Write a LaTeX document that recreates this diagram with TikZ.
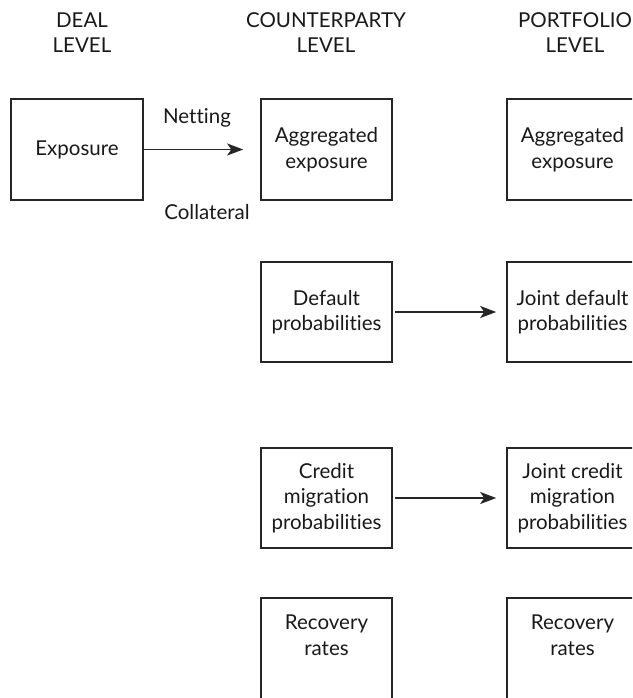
\documentclass[tikz,border=0pt]{standalone}
\usepackage{fontspec}
\setmainfont{Lato}[Ligatures=NoCommon]
\usetikzlibrary{arrows.meta}
\begin{document}
\begin{tikzpicture}[x=1pt,y=-1pt,
  box/.style={draw=black!85,line width=1.6pt,minimum width=131pt,minimum height=100pt,inner sep=0pt,align=center,font=\fontsize{20.5}{25.5}\selectfont,text=black!90},
  hdr/.style={align=center,font=\fontsize{20.5}{25}\selectfont,text=black!90},
  lbl/.style={font=\fontsize{20.5}{25}\selectfont,text=black!90},
  arr/.style={draw=black!85,line width=1.8pt,-{Stealth[length=16pt,width=12pt,inset=4pt]}}]
\clip (0,0) rectangle (632,698);
\node[hdr] (h1) at (82,33) {DEAL\\LEVEL};
\node[hdr] (h2) at (326,33) {COUNTERPARTY\\LEVEL};
\node[hdr] (h3) at (575,33) {PORTFOLIO\\LEVEL};
\node[box,minimum width=132pt,minimum height=101pt] (exp) at (77,149.5) {Exposure};
\node[box,minimum height=101pt] (agg) at (326.5,149.5) {Aggregated\\exposure};
\node[box,minimum height=101pt] (pagg) at (572.5,149.5) {Aggregated\\exposure};
\node[box] (def) at (326.5,312) {Default\\probabilities};
\node[box] (jdef) at (572.5,312) {Joint default\\probabilities};
\node[box] (cm) at (326.5,498) {Credit\\migration\\probabilities};
\node[box] (jcm) at (572.5,498) {Joint credit\\migration\\probabilities};
\node[box,minimum height=120pt] (rec) at (326.5,658) {Recovery\\rates\\[20pt]};
\node[box,minimum height=120pt] (jrec) at (572.5,658) {Recovery\\rates\\[20pt]};
\node[lbl] (net) at (197,118) {Netting};
\node[lbl] (col) at (207,212) {Collateral};
\draw[arr,shorten >=17pt] (exp.east) -- (agg.west);
\draw[arr,shorten <=2pt,shorten >=10pt] (def.east) -- (jdef.west);
\draw[arr,shorten <=2pt,shorten >=10pt] (cm.east) -- (jcm.west);
\end{tikzpicture}
\end{document}
